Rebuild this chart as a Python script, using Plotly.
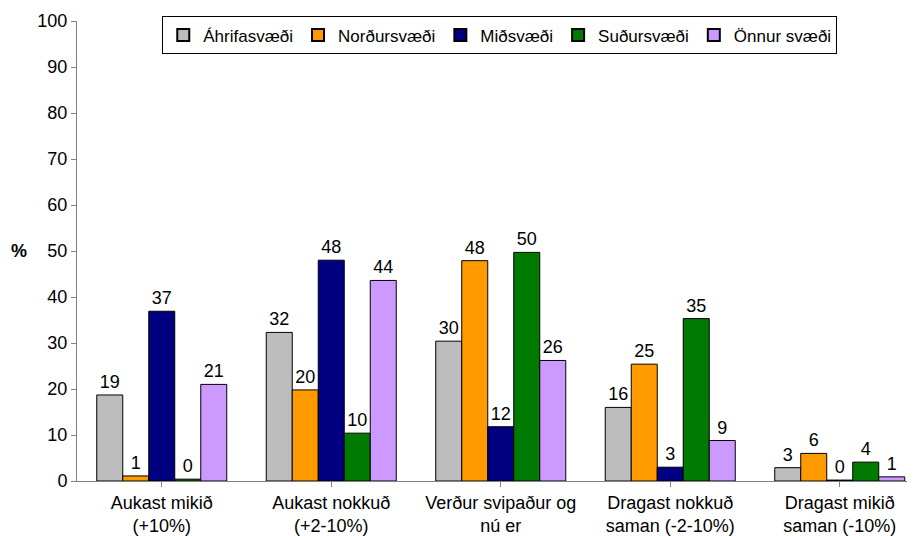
import plotly.graph_objects as go

categories = ["Aukast mikið<br>(+10%)", "Aukast nokkuð<br>(+2-10%)", "Verður svipaður og<br>nú er",
              "Dragast nokkuð<br>saman (-2-10%)", "Dragast mikið<br>saman (-10%)"]
series_names = ["Áhrifasvæði", "Norðursvæði", "Miðsvæði", "Suðursvæði", "Önnur svæði"]
ahrifasvaedi = [18.7, 32.3, 30.4, 16.0, 2.9]
nordursvaedi = [1.1, 19.8, 47.9, 25.4, 6.0]
midsvaedi = [36.9, 48.0, 11.8, 3.0, 0.2]
sudursvaedi = [0.4, 10.4, 49.7, 35.3, 4.1]
onnur_svaedi = [21.0, 43.6, 26.2, 8.8, 0.9]
y_ticks = [0, 10, 20, 30, 40, 50, 60, 70, 80, 90, 100]

series_values = [ahrifasvaedi, nordursvaedi, midsvaedi, sudursvaedi, onnur_svaedi]
colors = ["#BDBDBD", "#FF9900", "#000080", "#007A00", "#CC99FF"]

FONT = "Liberation Sans, Arial, sans-serif"

fig = go.Figure()
for name, vals, col in zip(series_names, series_values, colors):
    fig.add_trace(go.Bar(
        x=list(range(len(categories))), y=vals, name=name,
        marker=dict(color=col, line=dict(color="#000000", width=1)),
        texttemplate="%{y:.0f}", textposition="outside",
        textfont=dict(family=FONT, size=18, color="#000000"),
        cliponaxis=False,
    ))

# the page body adds an 8px offset, so the figure is 907x528
fig.update_layout(
    width=907, height=528,
    margin=dict(l=69, r=0, t=13, b=55, autoexpand=False),
    paper_bgcolor="white", plot_bgcolor="white",
    barmode="group", bargap=0.233, bargroupgap=0,
    font=dict(family=FONT, size=18, color="#000000"),
    showlegend=True,
    legend=dict(orientation="h", x=0.5045, xanchor="center", y=1.01, yanchor="top",
                bordercolor="#000000", borderwidth=1, bgcolor="white",
                font=dict(family=FONT, size=17, color="#000000"),
                itemsizing="constant", tracegroupgap=0, traceorder="normal"),
    xaxis=dict(tickmode="array", tickvals=list(range(len(categories))), ticktext=categories,
               range=[-0.5, 4.444], showline=True, linecolor="#808080", linewidth=1,
               ticks="outside", tickson="boundaries", ticklen=5, tickcolor="#808080",
               showgrid=False, zeroline=False, automargin=False, tickfont=dict(family=FONT, size=18)),
    yaxis=dict(range=[0, 100], tickvals=y_ticks, showline=True, linecolor="#808080", linewidth=1,
               ticks="outside", ticklen=5, tickcolor="#808080", showgrid=False, zeroline=False,
               automargin=False, tickfont=dict(family=FONT, size=18)),
    annotations=[dict(text="<b>%</b>", x=-0.069, xref="paper", xanchor="center", y=50, yref="y",
                      showarrow=False, font=dict(family=FONT, size=18))],
)

fig.write_html("out.html")
